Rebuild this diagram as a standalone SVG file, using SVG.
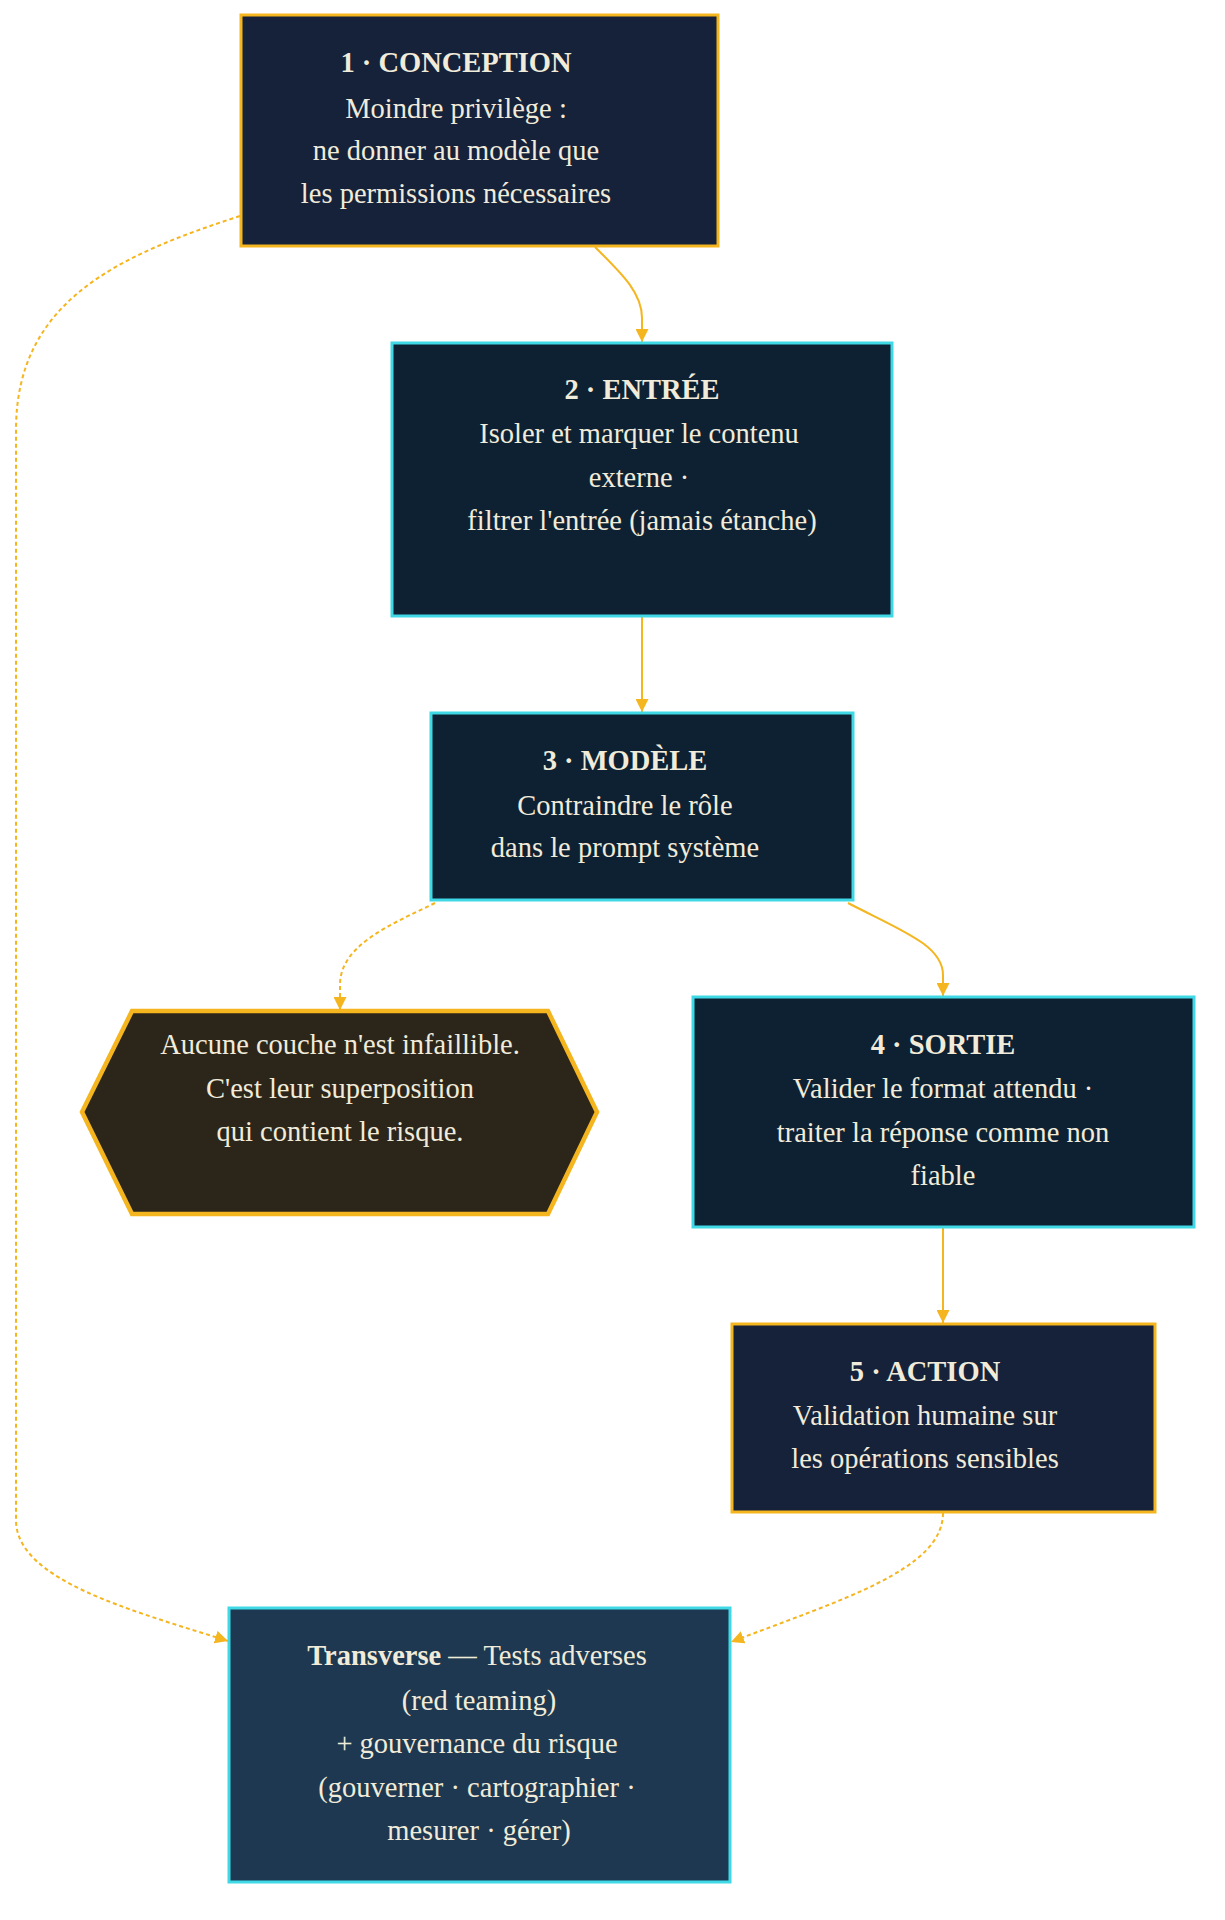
<svg xmlns="http://www.w3.org/2000/svg" width="1225" height="1920" viewBox="0 0 1225 1920">
<style>
  text { font-family: "Liberation Serif", "Times New Roman", serif; font-size: 28.5px; fill: #F1EBDA; text-anchor: middle; }
  .b { font-weight: bold; }
  .gold { stroke: #F5B51E; stroke-width: 3; }
  .cyan { stroke: #3FD9E6; stroke-width: 3; }
  .e { fill: none; stroke: #F5B51E; stroke-width: 2; }
  .d { stroke-dasharray: 4 3; }
</style>
<defs>
  <marker id="ah" viewBox="0 0 10 10" refX="10" refY="5" markerUnits="userSpaceOnUse" markerWidth="13" markerHeight="13" orient="auto">
    <path d="M0,0 L10,5 L0,10 z" fill="#F5B51E"/>
  </marker>
</defs>
<rect width="1225" height="1920" fill="#FFFFFF"/>
<g id="connectors">
  <path class="e" d="M595,247 C620,272 642,292 642,318 L642,342" marker-end="url(#ah)"/>
  <path class="e" d="M642,617 L642,712" marker-end="url(#ah)"/>
  <path class="e d" d="M435,903 C390,925 340,945 340,985 L340,1010" marker-end="url(#ah)"/>
  <path class="e" d="M848,903 C900,930 943,945 943,975 L943,996" marker-end="url(#ah)"/>
  <path class="e" d="M943,1228 L943,1323" marker-end="url(#ah)"/>
  <path class="e d" d="M943,1513 C943,1570 840,1600 731,1642" marker-end="url(#ah)"/>
  <path class="e d" d="M240,216 C120,255 16,300 16,430 L16,1520 C16,1580 130,1610 228,1641" marker-end="url(#ah)"/>
</g>
<g id="n1">
  <rect x="241" y="15" width="477" height="231" fill="#15223A" class="gold"/>
  <text x="456" y="72" class="b">1 · CONCEPTION</text>
  <text x="456" y="118">Moindre privilège :</text>
  <text x="456" y="160">ne donner au modèle que</text>
  <text x="456" y="203">les permissions nécessaires</text>
</g>
<g id="n2">
  <rect x="392" y="343" width="500" height="273" fill="#0E2133" class="cyan"/>
  <text x="642" y="399" class="b">2 · ENTRÉE</text>
  <text x="639" y="443">Isoler et marquer le contenu</text>
  <text x="639" y="487">externe ·</text>
  <text x="642" y="530">filtrer l'entrée (jamais étanche)</text>
</g>
<g id="n3">
  <rect x="431" y="713" width="422" height="187" fill="#0E2133" class="cyan"/>
  <text x="625" y="770" class="b">3 · MODÈLE</text>
  <text x="625" y="815">Contraindre le rôle</text>
  <text x="625" y="857">dans le prompt système</text>
</g>
<g id="note">
  <polygon points="82,1112 132,1011 548,1011 597,1112 548,1214 132,1214" fill="#2C251A" stroke="#F5B51E" stroke-width="4.5"/>
  <text x="340" y="1054">Aucune couche n'est infaillible.</text>
  <text x="340" y="1098">C'est leur superposition</text>
  <text x="340" y="1141">qui contient le risque.</text>
</g>
<g id="n4">
  <rect x="693" y="997" width="501" height="230" fill="#0E2133" class="cyan"/>
  <text x="943" y="1054" class="b">4 · SORTIE</text>
  <text x="943" y="1098">Valider le format attendu ·</text>
  <text x="943" y="1142">traiter la réponse comme non</text>
  <text x="943" y="1185">fiable</text>
</g>
<g id="n5">
  <rect x="732" y="1324" width="423" height="188" fill="#15223A" class="gold"/>
  <text x="925" y="1381" class="b">5 · ACTION</text>
  <text x="925" y="1425">Validation humaine sur</text>
  <text x="925" y="1468">les opérations sensibles</text>
</g>
<g id="transverse">
  <rect x="229" y="1608" width="501" height="274" fill="#1D3850" class="cyan"/>
  <text x="477" y="1665"><tspan class="b">Transverse</tspan> — Tests adverses</text>
  <text x="479" y="1710">(red teaming)</text>
  <text x="477" y="1753">+ gouvernance du risque</text>
  <text x="477" y="1797">(gouverner · cartographier ·</text>
  <text x="479" y="1840">mesurer · gérer)</text>
</g>
</svg>
